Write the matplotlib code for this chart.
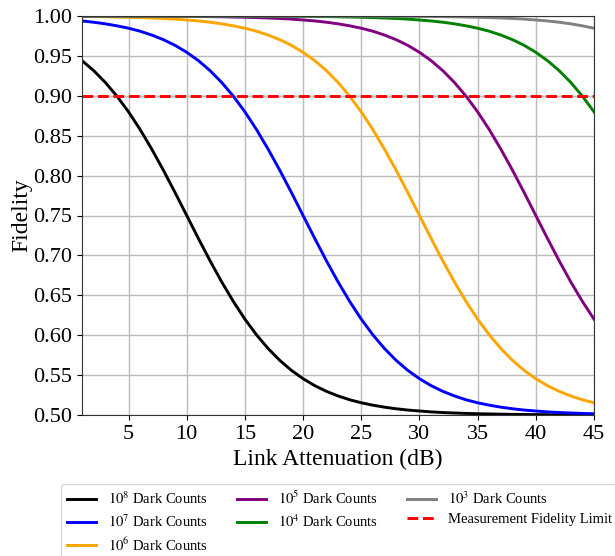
import matplotlib
matplotlib.use('Agg')
import matplotlib.pyplot as plt

plt.rcParams['font.family'] = 'Liberation Serif'
plt.rcParams['mathtext.fontset'] = 'stix'

attenuation = list(range(1, 46))

fid_1e8 = [0.9441, 0.9316, 0.9168, 0.8996, 0.8799, 0.8576, 0.8330, 0.8066, 0.7787, 0.7500,
           0.7213, 0.6934, 0.6669, 0.6424, 0.6201, 0.6004, 0.5832, 0.5684, 0.5559, 0.5455,
           0.5368, 0.5297, 0.5239, 0.5191, 0.5153, 0.5123, 0.5098, 0.5078, 0.5062, 0.5050,
           0.5039, 0.5031, 0.5025, 0.5020, 0.5016, 0.5013, 0.5010, 0.5008, 0.5006, 0.5005,
           0.5004, 0.5003, 0.5003, 0.5002, 0.5002]
fid_1e7 = [0.9938, 0.9922, 0.9902, 0.9877, 0.9847, 0.9809, 0.9761, 0.9703, 0.9632, 0.9545,
           0.9441, 0.9316, 0.9168, 0.8996, 0.8799, 0.8576, 0.8330, 0.8066, 0.7787, 0.7500,
           0.7213, 0.6934, 0.6669, 0.6424, 0.6201, 0.6004, 0.5832, 0.5684, 0.5559, 0.5455,
           0.5368, 0.5297, 0.5239, 0.5191, 0.5153, 0.5123, 0.5098, 0.5078, 0.5062, 0.5050,
           0.5039, 0.5031, 0.5025, 0.5020, 0.5016]
fid_1e6 = [0.9994, 0.9992, 0.9990, 0.9987, 0.9984, 0.9980, 0.9975, 0.9969, 0.9961, 0.9950,
           0.9938, 0.9922, 0.9902, 0.9877, 0.9847, 0.9809, 0.9761, 0.9703, 0.9632, 0.9545,
           0.9441, 0.9316, 0.9168, 0.8996, 0.8799, 0.8576, 0.8330, 0.8066, 0.7787, 0.7500,
           0.7213, 0.6934, 0.6669, 0.6424, 0.6201, 0.6004, 0.5832, 0.5684, 0.5559, 0.5455,
           0.5368, 0.5297, 0.5239, 0.5191, 0.5153]
fid_1e5 = [0.9999, 0.9999, 0.9999, 0.9999, 0.9998, 0.9998, 0.9997, 0.9997, 0.9996, 0.9995,
           0.9994, 0.9992, 0.9990, 0.9987, 0.9984, 0.9980, 0.9975, 0.9969, 0.9961, 0.9950,
           0.9938, 0.9922, 0.9902, 0.9877, 0.9847, 0.9809, 0.9761, 0.9703, 0.9632, 0.9545,
           0.9441, 0.9316, 0.9168, 0.8996, 0.8799, 0.8576, 0.8330, 0.8066, 0.7787, 0.7500,
           0.7213, 0.6934, 0.6669, 0.6424, 0.6201]
fid_1e4 = [1.0000, 1.0000, 1.0000, 1.0000, 1.0000, 1.0000, 1.0000, 1.0000, 1.0000, 0.9999,
           0.9999, 0.9999, 0.9999, 0.9999, 0.9998, 0.9998, 0.9997, 0.9997, 0.9996, 0.9995,
           0.9994, 0.9992, 0.9990, 0.9987, 0.9984, 0.9980, 0.9975, 0.9969, 0.9961, 0.9950,
           0.9938, 0.9922, 0.9902, 0.9877, 0.9847, 0.9809, 0.9761, 0.9703, 0.9632, 0.9545,
           0.9441, 0.9316, 0.9168, 0.8996, 0.8799]
fid_1e3 = [1.0000, 1.0000, 1.0000, 1.0000, 1.0000, 1.0000, 1.0000, 1.0000, 1.0000, 1.0000,
           1.0000, 1.0000, 1.0000, 1.0000, 1.0000, 1.0000, 1.0000, 1.0000, 1.0000, 0.9999,
           0.9999, 0.9999, 0.9999, 0.9999, 0.9998, 0.9998, 0.9997, 0.9997, 0.9996, 0.9995,
           0.9994, 0.9992, 0.9990, 0.9987, 0.9984, 0.9980, 0.9975, 0.9969, 0.9961, 0.9950,
           0.9938, 0.9922, 0.9902, 0.9877, 0.9847]

series = [
    (fid_1e8, 'black', r'$10^{8}$ Dark Counts'),
    (fid_1e7, 'blue', r'$10^{7}$ Dark Counts'),
    (fid_1e6, 'orange', r'$10^{6}$ Dark Counts'),
    (fid_1e5, 'purple', r'$10^{5}$ Dark Counts'),
    (fid_1e4, 'green', r'$10^{4}$ Dark Counts'),
    (fid_1e3, 'gray', r'$10^{3}$ Dark Counts'),
]
fidelity_limit = 0.90

x_ticks = [5, 10, 15, 20, 25, 30, 35, 40, 45]
y_ticks = [0.50, 0.55, 0.60, 0.65, 0.70, 0.75, 0.80, 0.85, 0.90, 0.95, 1.00]

fig = plt.figure(figsize=(6.15, 5.56), dpi=100)
ax = fig.add_axes([82 / 615, 1 - 415 / 556, 512 / 615, 399 / 556])

for vals, col, lab in series:
    ax.plot(attenuation, vals, color=col, linewidth=2.1, label=lab)
ax.axhline(fidelity_limit, color='red', linestyle='--', linewidth=2.1, label='Measurement Fidelity Limit')

ax.set_xlim(1, 45)
ax.set_ylim(0.5, 1.0)
ax.set_xticks(x_ticks)
ax.set_yticks(y_ticks)
ax.set_yticklabels([f'{v:.2f}' for v in y_ticks])
ax.tick_params(labelsize=16)
ax.grid(True, color='#bbbbbb', linewidth=1)
ax.set_axisbelow(True)
for sp in ax.spines.values():
    sp.set_color('#333333')
ax.set_xlabel('Link Attenuation (dB)', fontsize=17, labelpad=4)
ax.set_ylabel('Fidelity', fontsize=17, labelpad=1)

fig.legend(loc='upper left', bbox_to_anchor=(61 / 615, 1 - 484 / 556),
           bbox_transform=fig.transFigure, borderaxespad=0, ncol=3,
           fontsize=10.5, labelspacing=0.42)

fig.savefig('out.png', dpi=100)
